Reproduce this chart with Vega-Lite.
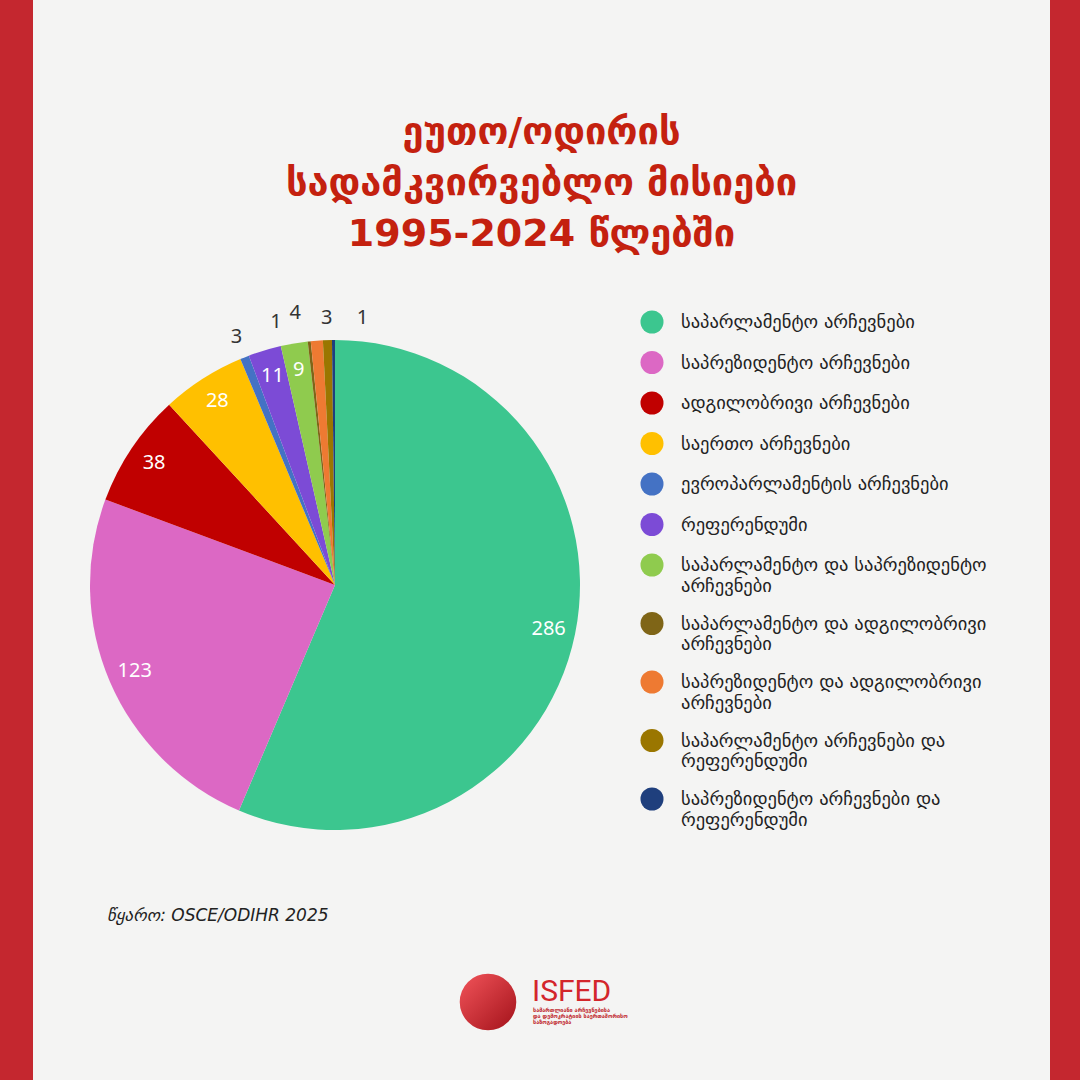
{
  "$schema": "https://vega.github.io/schema/vega-lite/v6.json",
  "width": 1017,
  "height": 1080,
  "autosize": {"type": "none"},
  "padding": {"left": 33, "top": 0, "right": 30, "bottom": 0},
  "background": "#c4272f",
  "view": {"fill": "#f4f4f3", "stroke": null},
  "config": {
    "view": {"fill": "#f4f4f3", "stroke": null}
  },
  "title": {
    "text": ["ეუთო/ოდირის", "სადამკვირვებლო მისიები", "1995-2024 წლებში"],
    "anchor": "middle",
    "offset": -254,
    "font": "DejaVu Sans",
    "fontSize": 38,
    "fontWeight": "bold",
    "color": "#c4210f",
    "lineHeight": 51
  },
  "data": {
    "values": [
      {"idx": 1, "cat": "საპარლამენტო არჩევნები", "count": 286},
      {"idx": 2, "cat": "საპრეზიდენტო არჩევნები", "count": 123},
      {"idx": 3, "cat": "ადგილობრივი არჩევნები", "count": 38},
      {"idx": 4, "cat": "საერთო არჩევნები", "count": 28},
      {"idx": 5, "cat": "ევროპარლამენტის არჩევნები", "count": 3},
      {"idx": 6, "cat": "რეფერენდუმი", "count": 11},
      {"idx": 7, "cat": "საპარლამენტო და საპრეზიდენტო არჩევნები", "count": 9},
      {"idx": 8, "cat": "საპარლამენტო და ადგილობრივი არჩევნები", "count": 1},
      {"idx": 9, "cat": "საპრეზიდენტო და ადგილობრივი არჩევნები", "count": 4},
      {"idx": 10, "cat": "საპარლამენტო არჩევნები და რეფერენდუმი", "count": 3},
      {"idx": 11, "cat": "საპრეზიდენტო არჩევნები და რეფერენდუმი", "count": 1}
    ]
  },
  "layer": [
    {
      "mark": {"type": "arc", "outerRadius": 245, "x": 302, "y": 585, "stroke": null},
      "encoding": {
        "theta": {"field": "count", "type": "quantitative", "stack": true},
        "order": {"field": "idx", "type": "quantitative"},
        "color": {
          "field": "cat",
          "type": "nominal",
          "scale": {
            "domain": [
              "საპარლამენტო არჩევნები",
              "საპრეზიდენტო არჩევნები",
              "ადგილობრივი არჩევნები",
              "საერთო არჩევნები",
              "ევროპარლამენტის არჩევნები",
              "რეფერენდუმი",
              "საპარლამენტო და საპრეზიდენტო არჩევნები",
              "საპარლამენტო და ადგილობრივი არჩევნები",
              "საპრეზიდენტო და ადგილობრივი არჩევნები",
              "საპარლამენტო არჩევნები და რეფერენდუმი",
              "საპრეზიდენტო არჩევნები და რეფერენდუმი"
            ],
            "range": ["#3cc68f", "#dc68c4", "#c00000", "#ffc000", "#4472c4", "#7c4bd6", "#8fcb4e", "#7f6517", "#ee7a32", "#9a7600", "#1f3f7d"]
          },
          "legend": {
            "title": null,
            "orient": "none",
            "legendX": 607,
            "legendY": 310,
            "padding": 0,
            "symbolType": "circle",
            "symbolSize": 530,
            "symbolStrokeWidth": 0,
            "labelFont": "DejaVu Sans",
            "labelFontSize": 18.5,
            "labelColor": "#222222",
            "labelOffset": 17,
            "labelLimit": 420,
            "rowPadding": 16.5,
            "labelExpr": "length(datum.label) > 30 ? [slice(datum.label, 0, lastindexof(datum.label, ' ')), slice(datum.label, lastindexof(datum.label, ' ') + 1)] : datum.label",
            "encoding": {"labels": {"enter": {"lineHeight": {"value": 24}}, "update": {"lineHeight": {"value": 24}}}}
          }
        }
      }
    },
    {
      "mark": {"type": "text", "radius": 218, "x": 302, "y": 585, "fill": "#ffffff", "fontSize": 20, "font": "Noto Sans"},
      "encoding": {
        "theta": {"field": "count", "type": "quantitative", "stack": true},
        "order": {"field": "idx", "type": "quantitative"},
        "detail": {"field": "cat", "type": "nominal"},
        "text": {"condition": {"test": "datum.count < 5", "value": ""}, "field": "count", "type": "quantitative"}
      }
    },
    {
      "mark": {
        "type": "text", "radius": 267, "x": 302, "y": 585, "fill": "#333333", "fontSize": 20, "font": "Noto Sans",
        "dx": {"expr": "datum.idx == 8 ? -31 : datum.idx == 9 ? -20 : datum.idx == 11 ? 29 : 0"},
        "dy": {"expr": "datum.idx == 9 ? -6 : datum.idx == 8 ? 3 : 0"}
      },
      "encoding": {
        "theta": {"field": "count", "type": "quantitative", "stack": true},
        "order": {"field": "idx", "type": "quantitative"},
        "detail": {"field": "cat", "type": "nominal"},
        "text": {"condition": {"test": "datum.count >= 5", "value": ""}, "field": "count", "type": "quantitative"}
      }
    },
    {
      "data": {"values": [{}]},
      "mark": {"type": "text", "text": "წყარო: OSCE/ODIHR 2025", "x": 74, "y": 916, "align": "left", "baseline": "middle", "font": "DejaVu Sans", "fontSize": 17, "fontStyle": "italic", "fill": "#222222"},
      "encoding": {}
    },
    {
      "data": {"values": [{}]},
      "mark": {
        "type": "point", "shape": "circle", "filled": true, "size": 3200, "x": 455, "y": 1002, "opacity": 1,
        "fill": {"gradient": "linear", "x1": 0, "y1": 0, "x2": 1, "y2": 1, "stops": [{"offset": 0, "color": "#f2545a"}, {"offset": 1, "color": "#a3121a"}]}
      },
      "encoding": {}
    },
    {
      "data": {"values": [{}]},
      "mark": {"type": "rule", "x": 491, "y": 983, "y2": 1022, "stroke": "#d9595c", "strokeWidth": 1},
      "encoding": {}
    },
    {
      "data": {"values": [{}]},
      "mark": {"type": "text", "text": "ISFED", "x": 499, "y": 992, "align": "left", "baseline": "middle", "font": "Roboto", "fontSize": 30, "fill": "#d3262b"},
      "encoding": {}
    },
    {
      "data": {"values": [{}]},
      "mark": {"type": "text", "text": ["სამართლიანი არჩევნებისა", "და დემოკრატიის საერთაშორისო", "საზოგადოება"], "x": 500, "y": 1008, "align": "left", "baseline": "top", "font": "DejaVu Sans", "fontSize": 5.5, "lineHeight": 6, "fontWeight": "bold", "fill": "#c0262b"},
      "encoding": {}
    }
  ]
}
